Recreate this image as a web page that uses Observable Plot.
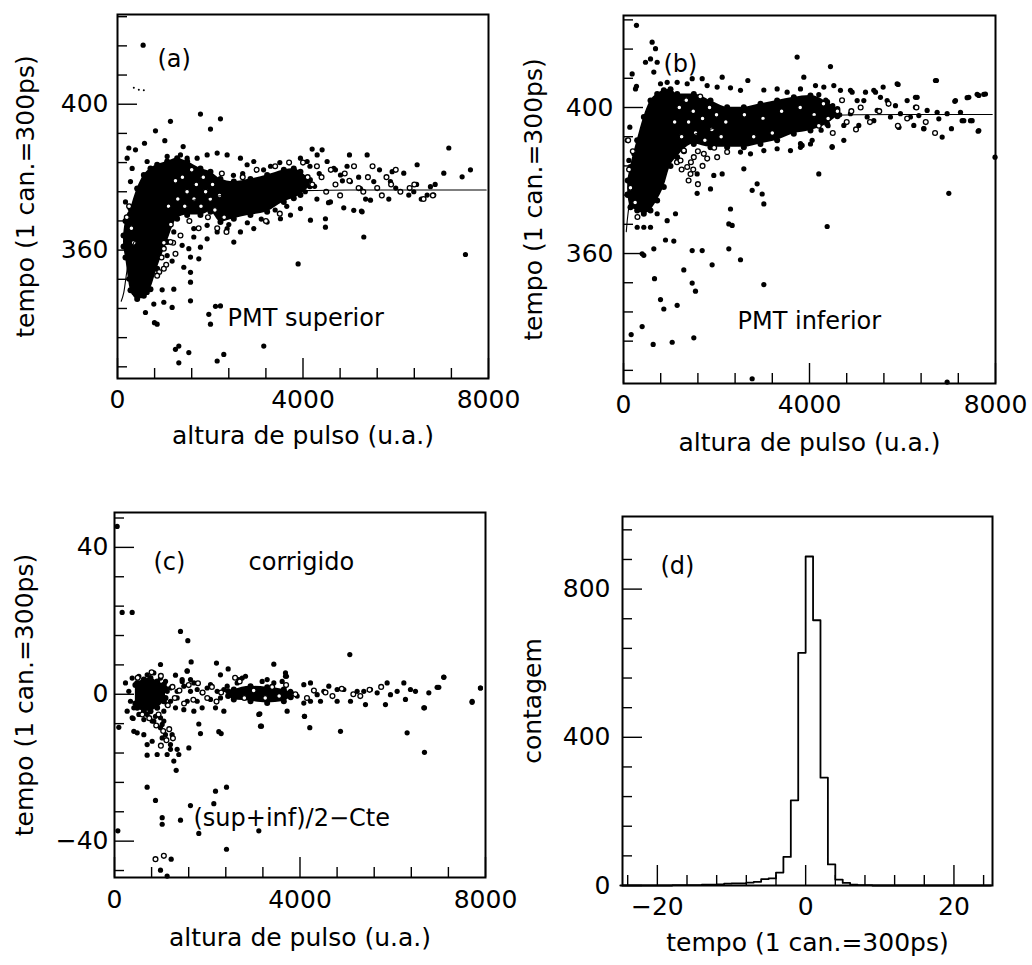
<!DOCTYPE html>
<html><head><meta charset="utf-8">
<script src="https://cdn.jsdelivr.net/npm/d3@7"></script>
<script src="https://cdn.jsdelivr.net/npm/@observablehq/plot@0.6"></script>
<style>
body{margin:0;background:#fff;}
#wrap{position:relative;width:1032px;height:965px;background:#fff;}
</style></head><body><div id="wrap"></div>
<script>
// ---------- tick values ----------
const pulseMajor = [0, 4000, 8000];
const pulseMinor = [800, 1600, 2400, 3200, 4800, 5600, 6400, 7200];
const abYMajor = [360, 400];
const abYMinor = [328, 336, 344, 352, 368, 376, 384, 392, 408, 416, 424];
const cYMajor = [-40, 0, 40];
const cYMinor = [-48, -32, -24, -16, -8, 8, 16, 24, 32, 48];
const dXMajor = [-20, 0, 20];
const dXMinor = [-24, -16, -12, -8, -4, 4, 8, 12, 16, 24];
const dYMajor = [0, 400, 800];
const dYMinor = [80, 160, 240, 320, 480, 560, 640, 720, 880, 960];

// ---------- panel (a): PMT superior ----------
const aCoreX  = [130, 172, 280, 424, 568, 711, 855, 1071, 1286, 1502, 1789, 2005, 2220, 2508, 2867, 3227, 3586, 3801, 3945, 4150];
const aCoreLo = [361, 358, 349, 346.6, 347.5, 349.3, 354.9, 362.2, 368.6, 369.6, 369.6, 370.5, 367.7, 368.6, 369.6, 370.5, 373.2, 374.2, 375.1, 377.5];
const aCoreHi = [364, 368, 371.4, 376.9, 380.6, 382.4, 383.4, 384.3, 385.2, 384.3, 382.4, 381.5, 379.5, 378.8, 379.5, 380.6, 382.0, 382.4, 381.5, 379.2];
const aDots = [
 [553,416.2],[1789,397.3],[2005,393.2],[2220,396.0],[1142,395.3],[819,392.7],[582,389.3],[1020,390],[1416,388.4],[244,388],[388,387.5],[639,384.3],
 [5002,386.1],[5383,386.1],[4197,387.7],[4412,387.5],[7144,388],[6461,383.4],[7036,381.1],[7431,380.1],[7611,382],[7503,358.8],[5311,363.6],[3895,356.2],
 [4161,368.2],[4484,368.6],[4484,366.3],[2508,362.2],[1933,363.1],[1645,363.6],[1538,360.4],[1789,360.8],[1753,357.6],[1574,358.1],[1430,355.3],[1178,357.0],
 [963,349.1],[1214,349.3],[1574,353.9],[1574,351.2],[1574,346.1],[603,342.9],[783,345.2],[797,340.1],[855,339.7],[999,345.7],[1178,344.3],[2005,339.7],
 [2113,344.6],[2220,344.7],[1969,342.4],[3154,333.7],[2292,331.4],[2149,329.6],[1250,332.8],[1322,333.7],[1322,329.1],[1538,331.9],
 [4879,371.6],[5095,370.9],[5260,370.7],[5526,378.8],[6820,375.1],[6281,375.1],[6389,376.0],[6677,375.1],[6748,377.4],[5455,373.7],[5886,378.8],[6101,376.0],
 [5922,381.5],[6173,381.1],[5239,376.9],[5023,378.8],[4808,380.6],[5275,370.5],[4592,373.2],
 [4000,380],[4150,383],[4300,374],[4350,381],[4550,373],[4700,382],[4850,379],[4950,383],[5200,380],[5350,374],[5650,382],[5850,374],[6000,377],[6450,378],[6550,374],[6850,378],
 [208,385.2],[316,382.4],[280,378.8],[172,373.2],[208,368.6],[244,365],[136,364],[190,361.3],[316,355.8],[244,352.1],[352,352.1],
 [352,348.4],[496,347.5],[639,348.4],[424,349.3],[568,350.2],
 [1071,385.7],[1358,386.1],[1502,385.2],[1717,385.2],[1933,386.1],[2149,386.6],[2364,386.1],[2651,385.2],[2795,383.4],[2939,384.3],
 [3945,385.2],[4089,384.3],[4305,386.1],[4520,384.3],[4664,382.4],
 [1645,365.9],[1933,366.8],[2149,365],[2364,365.9],[2651,365],[2939,365.9],[3227,367.7],[3514,368.6],[3730,369.6],[3945,371.4],
 [927,364],[1071,358.5],[1214,365],[1394,361.3],
 [3300,383],[3500,384],[3150,382],[2500,380.5],[2700,381],[2400,367],[2800,367.5],[3100,368.5],[3400,371],[3650,372],[4050,376],[4250,377.5]
];
const aRings = [
 [1400,380],[1450,372],[1500,376],[1550,368],[1600,382],[1650,374],[1700,378],[1750,366],[1800,372],[1850,380],[1900,376],[1950,369],[2000,374],[2050,378],
 [2100,371],[2150,366],[2200,375],[2250,381],[2300,369],[2350,365],[1300,374],[1250,379],[1150,367],[1100,372],
 [950,358],[1000,362],[1050,356],[900,354],[1200,362],[1250,359],[999,360.4],[1142,362.2],[855,353],[999,354.9],[1358,364],
 [4000,384],[4100,380],[4200,378],[4300,383],[4400,380],[4500,376],[4600,382],[4700,378],[4800,375],[4900,381],[5000,379],[5100,383],[5200,377],
 [5300,376],[5400,380],[5500,383],[5600,377],[5700,375],[5800,380],[5900,378],[6000,382],[6100,376],[6300,377],[6400,378],[6600,374],[6800,375],
 [300,366],[250,372],[350,362],[200,369],[3000,382],[3400,383],[3700,384],[2700,380],[3200,368],[3500,370]
];
const aSpecks = [[352,404.5],[460,404],[568,403.8]];
const aFitX = [80, 136, 200, 280, 400, 600, 900, 1300, 2000, 3000, 4000, 5000, 6000, 7950];
const aFitY = [346, 348.4, 354, 359.4, 363.5, 367, 370, 372.5, 374.5, 375.8, 376.3, 376.5, 376.5, 376.5];

// ---------- panel (b): PMT inferior ----------
const bCoreX  = [90, 150, 294, 437, 581, 724, 867, 1011, 1154, 1512, 1871, 2229, 2588, 2946, 3304, 3663, 4021, 4380, 4600];
const bCoreLo = [376, 372.7, 371.8, 370.9, 371.8, 374.5, 378.2, 384, 386.4, 390, 389.1, 389.1, 389.1, 390, 391, 392.8, 393.7, 395.5, 397.6];
const bCoreHi = [380, 383.7, 391, 397.4, 401.9, 403.7, 404.7, 405, 403.7, 403.7, 401.9, 400.1, 400.1, 401, 401.9, 402.8, 403.3, 401.5, 399.6];
const bDots = [
 [279,422.5],[616,417.9],[688,416.1],[473,412.4],[581,413.3],[724,412.4],[186,409.2],[652,409.7],[258,405.1],[279,405.8],[1477,407.9],[1692,407.9],
 [2122,408.3],[2674,407.4],[3734,413.8],[4451,411.2],[3878,408.3],[5885,406.5],[6709,407.4],[6279,402.8],[7139,401.9],[7426,402.8],[7605,403.6],[7784,403.7],
 [7283,396.4],[7498,396.4],[7641,393.7],[6853,391.9],[6458,394.2],[5921,394.6],[5168,401.9],[5526,402.8],[5383,404.7],[4881,404.7],[5025,401.9],[4487,389.1],
 [3842,389.6],[7990,386.4],[4200,381.8],[4380,367.4],[6996,376.5],[3018,373.6],[2874,379.1],[2767,377.3],[2982,376.3],[2588,383.2],[2122,381.8],[1942,381.4],
 [1584,381.8],[1584,376.5],[1871,377.7],[3018,351.5],[2301,372.2],[2265,368.1],[2337,367.7],[2265,361.3],[2516,358.3],[1906,356.9],[1477,360.8],[1692,360.8],
 [652,361.3],[437,359.5],[401,359.9],[903,363.7],[1082,363.4],[1297,355.5],[667,353.1],[796,347.4],[867,344.8],[1154,345.8],[1477,351.9],[1548,349.7],
 [401,340],[165,337.8],[638,335.1],[1047,335.7],[1512,336.9],[1118,370.9],[939,369],[724,370.9],[581,367.2],[437,367.2],[294,367.2],[509,372.2],
 [2767,325.7],[6960,324.8],
 [4129,406.0],[4308,405.6],[4523,406],[4666,404.7],[4917,404.2],[5204,404.2],[5419,404.2],[5584,405.6],[5906,406.3],[6315,402.8],[6730,407.4],[7125,401.7],
 [7390,402.7],[7641,403.3],[7748,403.6],
 [4881,398.3],[5240,397.4],[5455,399.2],[5741,397.4],[5956,398.3],[6171,397.4],[6351,397.8],[6530,399.2],[6745,398.7],[6960,398.3],[7247,398.7],[7462,396.4],
 [4738,395.1],[5060,395.1],[5383,396.4],[5920,394.6],[6243,395.1],[6458,394.2],[6781,396.9],[7053,394.2],[7318,396.4],[7627,393.5],
 [3806,390.1],[4057,391],[4487,389.3],[4738,391],[5670,401.9],[5849,400.5],[6100,401.9],[6279,400.1],
 [796,406.5],[939,406.9],[1154,406.9],[1370,406.5],[1799,406],[2014,405.6],[2301,405.4],[2516,404.7],[3018,404.8],[3304,405.1],[3519,404.2],[3806,405.1],
 [2516,387.8],[2731,387.3],[3018,388.2],[3304,388.7],[3591,388.2],[3806,389.1],[4021,390],
 [79,391],[115,385.5],[150,380.9],[79,376.3],[186,374.5],[222,387.3],[136,394.6],
 [4200,403.5],[4350,402],[4500,400.5],[4650,398],[4400,395],[4250,393.8]
];
const bRings = [
 [1100,396],[1200,400],[1250,392],[1300,388],[1350,402],[1400,396],[1450,385],[1500,399],[1550,393],[1600,388],[1650,403],[1700,397],[1750,391],[1800,386],
 [1850,400],[1900,394],[1950,389],[2000,398],[2100,392],[2200,396],[1150,385],[1250,383],[1400,380],[1500,383],[1600,379],[1700,384],
 [1226,385.5],[1370,383.7],[1512,386.4],[1727,387.3],[2014,386.4],[2229,387.8],[1298,388.2],[1441,381.8],
 [120,383],[150,378],[200,388],[250,374],[100,391],[300,370],
 [4100,398],[4200,395],[4300,401],[4400,397],[4500,393],[4600,399],[4700,402],[4800,396],[4900,399],[5000,394],[5100,400],[5300,396],[5500,399],[5700,401],
 [5900,395],[6100,397],[6300,400],[6500,396],[6700,393],[2600,398],[3000,397],[3400,399],[3800,400],[2800,392],[3200,393]
];
const bFitX = [60, 80, 150, 250, 400, 600, 900, 1300, 2000, 3000, 4000, 5000, 6000, 7930];
const bFitY = [366, 369, 375.4, 379.5, 383, 386, 389, 391.5, 394.5, 396.5, 397.5, 398, 398.1, 398.1];

// ---------- panel (c): corrigido ----------
const cCoreSeg = [1, 1, 1, 1, 1, 1, 1, 2, 2, 2, 2, 2, 2];
const cCoreX  = [450, 489, 633, 776, 920, 1064, 1100, 2450, 2573, 2933, 3292, 3651, 3800];
const cCoreLo = [-2.5, -3.7, -4.6, -4.6, -3.7, -1.9, -1, -0.5, -1.45, -1.9, -2.36, -1.9, -0.8];
const cCoreHi = [2.5, 3.1, 4.0, 4.4, 3.5, 2.6, 1.5, 0.8, 1.27, 2.17, 1.9, 1.27, 0.5];
const cDots = [
 [57,45.7],[165,22.3],[381,22.3],[1423,17.1],[1581,14.6],[992,8.1],[1653,8.8],[2199,8.5],[2451,6.9],[3435,8.2],[5074,10.8],[2285,5.3],[1567,6.4],[1459,4.0],
 [3687,5.8],[3708,4.9],[7101,4.7],[6957,1.9],[7891,1.7],[7711,-2.2],[6684,-3.7],[6684,-15.8],[6310,-10.5],[4873,-10.1],[4211,-9.1],[4096,-6.0],[3169,-8.7],
 [3134,-5.3],[2249,-10.2],[2300,-10.7],[1854,-10.7],[1818,-8.1],[1603,-14.6],[1330,-20.7],[1279,-18.2],[1387,-16.4],[1351,-15.0],[1135,-16.4],[1207,-15.0],
 [920,-16.4],[704,-16.6],[704,-13.7],[812,-12.8],[417,-10.1],[489,-10.5],[632,-11],[402,-6.6],[1028,-11.9],[1099,-11],[1207,-13.7],[1243,-11],[992,-9.1],
 [1064,-7.3],[848,-7.3],[704,-25.3],[884,-28.9],[1028,-33.6],[1028,-35.4],[1423,-34.3],[1638,-30.3],[1818,-37.9],[2142,-29.8],[2178,-26.4],[2415,-25.3],
 [3112,-37.2],[2415,-42.2],[992,-47.9],[1135,-49.5],[1222,-44.9],[72,-37.2],[93,-9],
 [1315,5.2],[1459,3.5],[1567,6.3],[1639,4.0],[1711,3.1],
 [1208,1.7],[1351,0.8],[1495,2.2],[1639,0.8],[1783,1.3],[1890,0.4],[1998,1.7],[2070,2.6],[2214,0.8],[2358,1.3],[2430,2.2],[1208,-1.9],[1351,-1.0],[1567,-1.9],
 [1783,-1.9],[2070,-1.4],[2286,-1.0],[2358,-4.6],[2178,-3.7],[1890,-3.7],[1711,-4.6],[1495,-4.2],[1315,-3.7],
 [2681,4.0],[2753,4.4],[2825,4.9],[2645,3.1],[3184,3.5],[3292,4.0],[3436,3.1],[3615,3.5],[3687,4.9],
 [3795,0.8],[3939,-0.5],[4082,2.6],[4226,3.1],[4370,-0.1],[4514,0.8],[4621,2.2],[4801,1.3],[4945,1.3],[5089,-1.9],[5232,0.8],[5376,0.8],[5520,1.3],[5664,0.4],
 [5879,3.1],[5951,-0.1],[6095,0.8],[6239,3.1],[6382,1.3],[6490,0.8],[6670,-3.7],[6778,0.4],[6993,1.9],[7101,4.6],[7712,-1.9],[7892,1.7],[4082,-2.4],[4226,-1.9],
 [4442,-1.9],[4801,-1.9],[5412,-2.8],[5843,-2.8],[6274,-1.4],[3112,-5.5],[3148,-8.7],[3723,-4.6],[4097,-6.0],
 [237,3.1],[309,0.8],[345,-1.9],[417,-3.7],[381,4.4],[273,-4.6],[525,4.9],[705,5.3],[848,5.8],[992,4.4],[1100,3.5],[1136,0.8],[1136,-2.8],[1064,-4.6],
 [884,-6.0],[705,-5.5],[525,-5.5],[381,-6.4],[633,-6.9],[812,-7.3],[992,-6.4],[1028,-8.2]
];
const cRings = [
 [500,4.5],[600,-5.5],[750,-6.5],[800,6],[950,-5.5],[1000,5],[1150,-3],[1250,2],[1300,-1],[1400,1],[1500,-2.5],[1600,2.5],[1700,-1.5],[1800,3],[1900,0.5],
 [2000,-1],[2100,2],[2200,-2],[2300,0.5],[2600,4.5],[2700,3.5],[2800,-1],[3000,1],[3250,-1],[3400,2],[3550,-0.5],[3700,2.5],[3900,0],[4150,-1],[4300,1],
 [4550,0.5],[4700,-0.5],[4900,1.5],[5150,0],[5300,-0.5],[5500,1.2],[5750,2],[900,-8.5],[1050,-10],[1120,-12.5],[1180,-9.5],[1260,-12],[1000,-14],
 [884,-44.9],[1064,-44]
];

// ---------- panel (d): histogram ----------
const histBinStart = d3.range(-25, 25); // channel bins, width 1
const histBinWidth = 1;
const histCounts = [0,0,0,0,0,0,0, 1,1,1,1,2,2,3,5,6,6,8,10,17,19,35,77,230,628,888,716,291,57,16,7,2,1,1, 0,0,0,0,0,0,0,0,0,0,0,0,0,0,0,0];

// ---------- helpers ----------
const wrap = document.getElementById("wrap");
const fmt = d => String(d).replace("-", "\u2212");
const FONT = "DejaVu Sans";
const pairs = arr => arr.map(([x, y]) => ({x, y}));
const core = (xs, lo, hi, seg) => xs.map((x, i) => ({x, lo: lo[i], hi: hi[i], seg: seg ? seg[i] : 1}));
const zipXY = (xs, ys) => xs.map((x, i) => ({x, y: ys[i]}));
const MAJ = 20, MIN = 10; // inward tick lengths (px)

function panel(c) {
  const fw = c.w - c.ml - c.mr, fh = c.h - c.mt - c.mb;
  const tickStyle = {stroke: "black", strokeWidth: 1.4};
  const svg = Plot.plot({
    width: c.w, height: c.h,
    marginLeft: c.ml, marginRight: c.mr, marginTop: c.mt, marginBottom: c.mb,
    x: {domain: c.xd}, y: {domain: c.yd},
    style: {fontFamily: FONT, fontSize: "24px", color: "black", background: "transparent", overflow: "visible"},
    marks: [
      ...c.marks,
      // inward ticks along the bottom and left edges of the frame
      Plot.tickX(c.xMinor, {x: d => d, insetTop: fh - MIN, ...tickStyle}),
      Plot.tickX(c.xMajor, {x: d => d, insetTop: fh - MAJ, ...tickStyle}),
      Plot.tickY(c.yMinor, {y: d => d, insetRight: fw - MIN, ...tickStyle}),
      Plot.tickY(c.yMajor, {y: d => d, insetRight: fw - MAJ, ...tickStyle}),
      Plot.frame({stroke: "black", strokeWidth: 2}),
      Plot.axisX({ticks: c.xMajor, tickSize: 0, tickPadding: c.xPad, tickFormat: fmt, label: null, fontSize: 25}),
      Plot.axisY({ticks: c.yMajor, tickSize: 0, tickPadding: c.yPad, tickFormat: fmt, label: null, fontSize: 25}),
      Plot.text([c.xLabel], {text: d => d, frameAnchor: "bottom", dy: c.xLabDy, textAnchor: "middle", fontSize: 25, fill: "black"}),
      Plot.text([c.yLabel], {text: d => d, frameAnchor: "left", dx: c.yLabDx, rotate: -90, textAnchor: "middle", fontSize: 25, fill: "black"}),
      ...c.notes.map(n => Plot.text([n.t], {text: d => d, frameAnchor: "top-left", dx: n.dx, dy: n.dy, textAnchor: "start", lineAnchor: "middle", fontSize: 24, fill: "black"}))
    ]
  });
  svg.style.position = "absolute";
  svg.style.left = c.left + "px";
  svg.style.top = c.top + "px";
  svg.style.overflow = "visible";
  wrap.appendChild(svg);
}

function scatterMarks(coreData, dots, rings, fit, specks) {
  const m = [
    Plot.areaY(coreData, {x: "x", y1: "lo", y2: "hi", z: "seg", fill: "black", curve: "monotone-x"}),
    Plot.dot(coreData, {x: "x", y: "lo", r: 3, fill: "black"}),
    Plot.dot(coreData, {x: "x", y: "hi", r: 3, fill: "black"}),
    Plot.dot(dots, {x: "x", y: "y", r: 2.6, fill: "black"}),
    Plot.dot(rings, {x: "x", y: "y", r: 2.4, fill: "white", stroke: "black", strokeWidth: 1.3})
  ];
  if (specks) m.push(Plot.dot(specks, {x: "x", y: "y", r: 1, fill: "black"}));
  if (fit) m.push(Plot.line(fit, {x: "x", y: "y", stroke: "black", strokeWidth: 1.1, curve: "monotone-x"}));
  return m;
}

const tempoLabel = "tempo (1 can.=300ps)";
const pulseLabel = "altura de pulso (u.a.)";

// (a)
panel({
  left: 0, top: 0, w: 516, h: 475, ml: 117, mr: 28, mt: 14, mb: 97,
  xd: [0, 8000], yd: [324.8, 424.6],
  xMajor: pulseMajor, xMinor: pulseMinor, yMajor: abYMajor, yMinor: abYMinor,
  xPad: 12, yPad: 9, xLabel: pulseLabel, yLabel: tempoLabel, xLabDy: 65, yLabDx: -92,
  notes: [{t: "(a)", dx: 40, dy: 45}, {t: "PMT superior", dx: 110, dy: 304}],
  marks: scatterMarks(core(aCoreX, aCoreLo, aCoreHi), pairs(aDots), pairs(aRings), zipXY(aFitX, aFitY), pairs(aSpecks))
});
// (b)
panel({
  left: 516, top: 0, w: 516, h: 475, ml: 107, mr: 37, mt: 15, mb: 92,
  xd: [0, 8000], yd: [324.4, 425.2],
  xMajor: pulseMajor, xMinor: pulseMinor, yMajor: abYMajor, yMinor: abYMinor,
  xPad: 12, yPad: 10, xLabel: pulseLabel, yLabel: tempoLabel, xLabDy: 67, yLabDx: -90,
  notes: [{t: "(b)", dx: 40, dy: 49}, {t: "PMT inferior", dx: 114, dy: 306}],
  marks: scatterMarks(core(bCoreX, bCoreLo, bCoreHi), pairs(bDots), pairs(bRings), zipXY(bFitX, bFitY))
});
// (c)
panel({
  left: 0, top: 475, w: 516, h: 490, ml: 114, mr: 31, mt: 37, mb: 88,
  xd: [0, 8000], yd: [-49.9, 49.5],
  xMajor: pulseMajor, xMinor: pulseMinor, yMajor: cYMajor, yMinor: cYMinor,
  xPad: 13, yPad: 6, xLabel: pulseLabel, yLabel: tempoLabel, xLabDy: 68, yLabDx: -89.5,
  notes: [{t: "(c)", dx: 39, dy: 50}, {t: "corrigido", dx: 134, dy: 50}, {t: "(sup+inf)/2\u2212Cte", dx: 79, dy: 306}],
  marks: scatterMarks(core(cCoreX, cCoreLo, cCoreHi, cCoreSeg), pairs(cDots), pairs(cRings))
});
// (d)
const histTable = histBinStart.map((x, i) => ({x, n: histCounts[i]}));
histTable.push({x: histBinStart[histBinStart.length - 1] + histBinWidth, n: 0});
panel({
  left: 516, top: 475, w: 516, h: 490, ml: 106, mr: 40, mt: 41, mb: 80,
  xd: [-24.7, 25.2], yd: [0, 996],
  xMajor: dXMajor, xMinor: dXMinor, yMajor: dYMajor, yMinor: dYMinor,
  xPad: 12, yPad: 12, xLabel: tempoLabel, yLabel: "contagem", xLabDy: 65, yLabDx: -90,
  notes: [{t: "(d)", dx: 38, dy: 50}],
  marks: [Plot.line(histTable, {x: "x", y: "n", curve: "step-after", stroke: "black", strokeWidth: 1.8})]
});
</script></body></html>
